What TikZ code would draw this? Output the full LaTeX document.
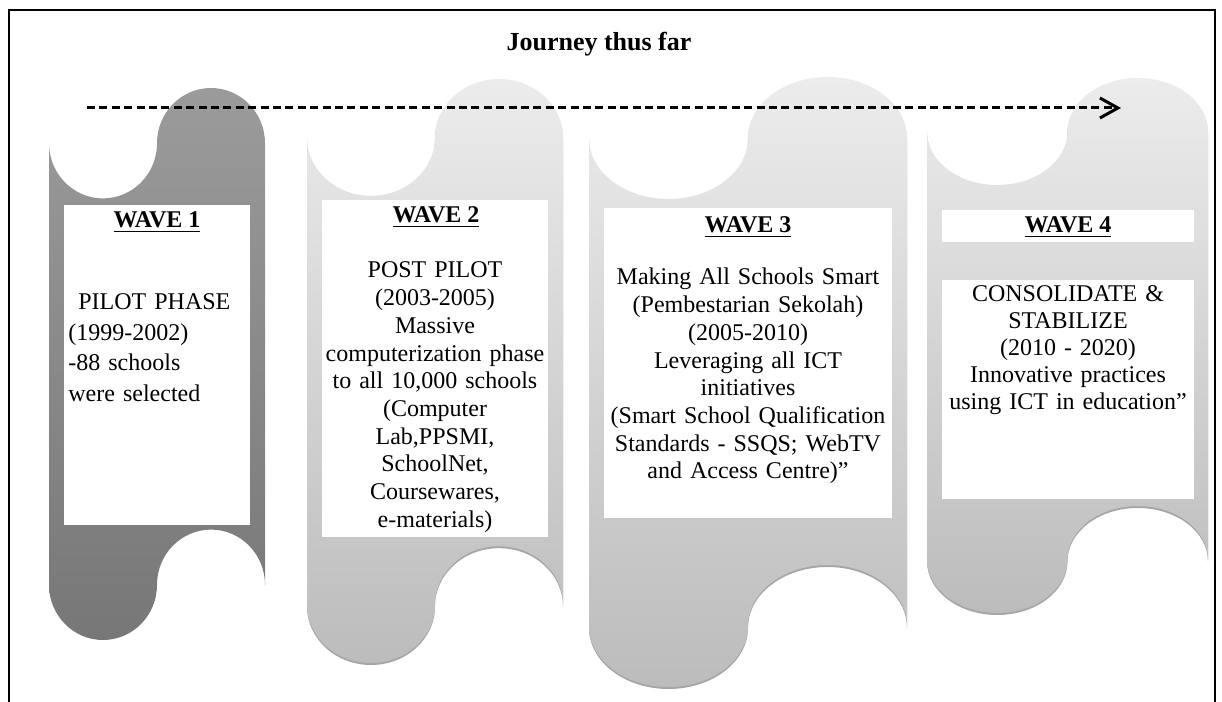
\documentclass[tikz,border=0pt]{standalone}
\usepackage{fontspec}
\setmainfont{Liberation Serif}
\usetikzlibrary{arrows.meta}

\definecolor{darktop}{HTML}{9B9B9B}
\definecolor{darkbot}{HTML}{777777}
\definecolor{lighttop}{HTML}{ECECEC}
\definecolor{lightbot}{HTML}{BCBCBC}
\definecolor{tapeshadow}{HTML}{A6A6A6}

% Punched-tape outline: #1 left, #2 top, #3 right, #4 bottom (measured downward
% from the top edge of the page), #5 path options.
\newcommand{\punchtape}[5]{%
  \pgfmathsetmacro\tapeQ{(#3-#1)/4}%
  \pgfmathsetmacro\tapeA{(#4-#2)/10}%
  \pgfmathsetmacro\tapeTop{702-#2-\tapeA}%
  \pgfmathsetmacro\tapeBot{702-#4+\tapeA}%
  \path[#5] (#1,\tapeTop)
    arc[start angle=180,end angle=360,x radius=\tapeQ,y radius=\tapeA]
    arc[start angle=180,end angle=0,x radius=\tapeQ,y radius=\tapeA]
    -- (#3,\tapeBot)
    arc[start angle=0,end angle=180,x radius=\tapeQ,y radius=\tapeA]
    arc[start angle=0,end angle=-180,x radius=\tapeQ,y radius=\tapeA]
    -- cycle;}

\begin{document}
\begin{tikzpicture}[x=0.5pt,y=0.5pt,
  darktape/.style={top color=darktop,bottom color=darkbot},
  lighttape/.style={top color=lighttop,bottom color=lightbot},
  shadowtape/.style={fill=tapeshadow,yshift=-1pt},
  whitebox/.style={fill=white,draw=none,inner sep=0pt,outer sep=0pt},
  wavehead/.style={font=\bfseries\fontsize{12pt}{14pt}\selectfont,anchor=base,inner sep=0pt},
  wavebody/.style={font=\fontsize{12pt}{13.85pt}\selectfont,anchor=base,inner sep=0pt,align=center},
  journeyarrow/.style={line width=1.5pt,dash pattern=on 4pt off 2.2pt,
    -{Straight Barb[length=9pt,width=10pt]}},
  frameline/.style={line width=1.1pt,line join=miter}]

\useasboundingbox (0,0) rectangle (1222,702);

% tapes
\punchtape{49}{88}{265}{640}{darktape}
\punchtape{307}{79}{563}{663}{shadowtape}
\punchtape{307}{79}{563}{663}{lighttape}
\punchtape{589}{77}{907}{687}{shadowtape}
\punchtape{589}{77}{907}{687}{lighttape}
\punchtape{927}{78}{1208}{613}{shadowtape}
\punchtape{927}{78}{1208}{613}{lighttape}

% white panels
\node[whitebox,minimum width=93pt,minimum height=160pt] (box1) at (157,337) {};
\node[whitebox,minimum width=113pt,minimum height=168.5pt] (box2) at (435,333.5) {};
\node[whitebox,minimum width=144pt,minimum height=155pt] (box3) at (748,339) {};
\node[whitebox,minimum width=126pt,minimum height=16pt] (box4a) at (1068,476) {};
\node[whitebox,minimum width=126pt,minimum height=109.5pt] (box4b) at (1068,312.5) {};

% headings
\node[wavehead] (h1) at (157,474) {\underline{WAVE 1}};
\node[wavehead] (h2) at (436,479) {\underline{WAVE 2}};
\node[wavehead] (h3) at (748,469) {\underline{WAVE 3}};
\node[wavehead] (h4) at (1068,469) {\underline{WAVE 4}};

% panel texts
\node[font=\fontsize{12pt}{15.25pt}\selectfont,anchor=base west,inner sep=0pt,
      text width=90pt,align=left] (t1) at (68,392)
  {\hspace*{5pt}PILOT PHASE\\(1999-2002)\\-88 schools\\were selected};
\node[wavebody,text width=113pt] (t2) at (435,424)
  {POST PILOT\\(2003-2005)\\Massive\\computerization phase\\to all 10,000 schools\\(Computer\\Lab,PPSMI,\\SchoolNet,\\Coursewares,\\e-materials)};
\node[wavebody,text width=144pt] (t3) at (748,417)
  {Making All Schools Smart\\(Pembestarian Sekolah)\\(2005-2010)\\Leveraging all ICT\\initiatives\\(Smart School Qualification\\Standards - SSQS; WebTV\\and Access Centre)”};
\node[wavebody,text width=126pt,font=\fontsize{12pt}{13.5pt}\selectfont] (t4) at (1068,400)
  {CONSOLIDATE \&\\STABILIZE\\(2010 - 2020)\\Innovative practices\\using ICT in education”};

% title and timeline arrow
\node[font=\bfseries\fontsize{13pt}{15pt}\selectfont,anchor=base,inner sep=0pt] (title) at (599,651) {Journey thus far};
\coordinate (arrstart) at (87,594);
\coordinate (arrend) at (1121,594);
\draw[journeyarrow] (arrstart) -- (arrend);

% page frame (open at the bottom)
\draw[frameline] (9,0) -- (9,692) -- (1215,692) -- (1215,0);
\end{tikzpicture}
\end{document}
